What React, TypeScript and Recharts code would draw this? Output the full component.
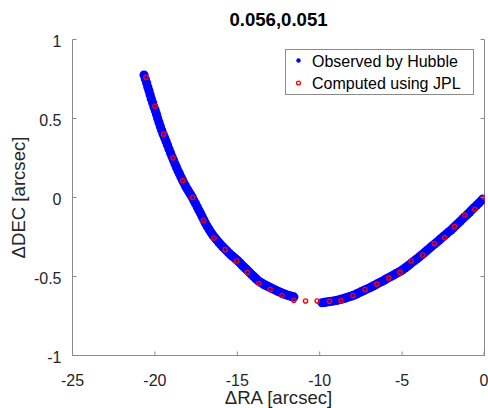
import { Label, Legend, Scatter, ScatterChart, XAxis, YAxis } from "recharts";

// left arc of the Hubble track (top -> bottom)
const observedLeftRA = [
  -20.66, -20.58, -20.5, -20.43, -20.36, -20.29, -20.22, -20.14, -20.06, -19.98,
  -19.9, -19.83, -19.75, -19.67, -19.59, -19.5, -19.41, -19.32, -19.23, -19.14,
  -19.05, -18.96, -18.87, -18.78, -18.69, -18.6, -18.51, -18.42, -18.33, -18.23,
  -18.13, -18.03, -17.93, -17.83, -17.73, -17.63, -17.53, -17.43, -17.33, -17.23,
  -17.13, -17.03, -16.93, -16.82, -16.71, -16.6, -16.49, -16.38, -16.26, -16.14,
  -16.02, -15.9, -15.78, -15.66, -15.54, -15.42, -15.3, -15.18, -15.06, -14.94,
  -14.83, -14.72, -14.61, -14.5, -14.39, -14.27, -14.15, -14.03, -13.91, -13.8,
  -13.69, -13.57, -13.45, -13.33, -13.21, -13.1, -12.99, -12.87, -12.75, -12.63,
  -12.51, -12.4, -12.29, -12.17, -12.05, -11.93, -11.81, -11.69, -11.57,
];
const observedLeftDEC = [
  0.775, 0.75, 0.725, 0.7, 0.675, 0.65, 0.625, 0.6, 0.575, 0.55,
  0.525, 0.5, 0.475, 0.45, 0.425, 0.4, 0.378, 0.355, 0.33, 0.305,
  0.282, 0.258, 0.235, 0.212, 0.19, 0.17, 0.15, 0.13, 0.11, 0.09,
  0.07, 0.052, 0.035, 0.018, 0.0, -0.02, -0.04, -0.06, -0.08, -0.1,
  -0.122, -0.143, -0.163, -0.183, -0.202, -0.22, -0.237, -0.252, -0.267, -0.282,
  -0.296, -0.31, -0.323, -0.336, -0.348, -0.36, -0.371, -0.382, -0.392, -0.403,
  -0.415, -0.427, -0.439, -0.45, -0.461, -0.473, -0.485, -0.497, -0.509, -0.52,
  -0.53, -0.538, -0.546, -0.553, -0.559, -0.565, -0.571, -0.577, -0.583, -0.589,
  -0.595, -0.6, -0.605, -0.61, -0.615, -0.619, -0.623, -0.626, -0.629,
];

// right arc of the Hubble track (bottom -> top)
const observedRightRA = [
  -9.86, -9.72, -9.58, -9.44, -9.3, -9.16, -9.02, -8.88, -8.74, -8.6,
  -8.46, -8.32, -8.18, -8.04, -7.9, -7.76, -7.62, -7.48, -7.34, -7.2,
  -7.06, -6.92, -6.78, -6.64, -6.5, -6.36, -6.22, -6.08, -5.94, -5.8,
  -5.66, -5.52, -5.38, -5.24, -5.1, -4.96, -4.82, -4.68, -4.54, -4.4,
  -4.26, -4.12, -3.98, -3.84, -3.7, -3.56, -3.42, -3.28, -3.14, -3.0,
  -2.86, -2.72, -2.58, -2.44, -2.3, -2.16, -2.02, -1.88, -1.74, -1.6,
  -1.46, -1.32, -1.18, -1.04, -0.9, -0.76, -0.62, -0.48, -0.34, -0.2, -0.1,
];
const observedRightDEC = [
  -0.666, -0.664, -0.662, -0.659, -0.657, -0.655, -0.652, -0.649, -0.645, -0.641,
  -0.637, -0.632, -0.627, -0.623, -0.617, -0.61, -0.603, -0.596, -0.59, -0.583,
  -0.576, -0.569, -0.561, -0.554, -0.546, -0.538, -0.531, -0.523, -0.515, -0.507,
  -0.499, -0.491, -0.482, -0.474, -0.466, -0.457, -0.446, -0.435, -0.424, -0.412,
  -0.401, -0.39, -0.378, -0.366, -0.354, -0.341, -0.329, -0.317, -0.304, -0.292,
  -0.28, -0.267, -0.255, -0.242, -0.23, -0.217, -0.205, -0.191, -0.177, -0.163,
  -0.149, -0.135, -0.121, -0.107, -0.093, -0.078, -0.064, -0.049, -0.035, -0.021, -0.01,
];

const jplRA = [
  -20.54, -20.0, -19.47, -18.9, -18.31, -17.71, -17.05, -16.41, -15.74, -15.05,
  -14.39, -13.69, -13.01, -12.29, -11.57, -10.86, -10.15, -9.4, -8.71, -7.98,
  -7.25, -6.54, -5.81, -5.12, -4.45, -3.75, -3.05, -2.43, -1.82, -1.19, -0.59, 0.0,
];
const jplDEC = [
  0.76, 0.578, 0.401, 0.251, 0.107, 0.0, -0.144, -0.256, -0.33, -0.402,
  -0.474, -0.545, -0.582, -0.62, -0.651, -0.655, -0.655, -0.656, -0.653, -0.62,
  -0.582, -0.548, -0.51, -0.474, -0.402, -0.364, -0.292, -0.254, -0.184, -0.111, -0.074, 0.0,
];

const raTicks = [-25, -20, -15, -10, -5, 0];
const decTicks = [-1, -0.5, 0, 0.5, 1];
const title = "0.056,0.051";
const seriesNames = ["Observed by Hubble", "Computed using JPL"];

const toPoints = (xs: number[], ys: number[]) => xs.map((x, i) => ({ ra: x, dec: ys[i] }));
const observed = [
  ...toPoints(observedLeftRA, observedLeftDEC),
  ...toPoints(observedRightRA, observedRightDEC),
];
const computed = toPoints(jplRA, jplDEC);

const AXIS = "#8a8a8a";
const TEXT = "#262626";
const FONT = '"Liberation Sans", Arial, Helvetica, sans-serif';
const BLUE = "#0000ff";
const RED = "#ff0000";

function BottomTick({ x, y, payload }: any) {
  return (
    <g>
      <line x1={x} y1={y} x2={x} y2={y - 4} stroke={AXIS} />
      <text x={x} y={y + 30} textAnchor="middle" fontSize={16} fill={TEXT} fontFamily={FONT}>
        {payload.value}
      </text>
    </g>
  );
}

function TopTick({ x, y }: any) {
  return <line x1={x} y1={y} x2={x} y2={y + 4} stroke={AXIS} />;
}

function LeftTick({ x, y, payload }: any) {
  return (
    <g>
      <line x1={x} y1={y} x2={x + 4} y2={y} stroke={AXIS} />
      <text x={x - 11} y={y + 7.5} textAnchor="end" fontSize={16} fill={TEXT} fontFamily={FONT}>
        {payload.value}
      </text>
    </g>
  );
}

function RightTick({ x, y }: any) {
  return <line x1={x} y1={y} x2={x - 4} y2={y} stroke={AXIS} />;
}

function LegendBox() {
  return (
    <svg width={189} height={46} style={{ display: "block" }}>
      <rect x={0.5} y={0.5} width={188} height={45} fill="#fff" stroke={AXIS} />
      <circle cx={13.5} cy={11.5} r={2.2} fill={BLUE} />
      <circle cx={13.5} cy={34} r={1.9} fill="none" stroke={RED} strokeWidth={1.3} />
      <text x={27} y={17.7} fontSize={16} fill="#000" fontFamily={FONT}>
        {seriesNames[0]}
      </text>
      <text x={27} y={39.7} fontSize={16} fill="#000" fontFamily={FONT}>
        {seriesNames[1]}
      </text>
    </svg>
  );
}

// x label under the axis, title centred over the plot area
function XLabelAndTitle({ viewBox }: any) {
  const cx = viewBox.x + viewBox.width / 2;
  return (
    <g>
      <text x={cx} y={viewBox.y + 48.5} textAnchor="middle" fontSize={18.6} fill={TEXT} fontFamily={FONT}>
        ΔRA [arcsec]
      </text>
      <text x={cx} y={26} textAnchor="middle" fontSize={18.6} fontWeight="bold" fill="#000" fontFamily={FONT}>
        {title}
      </text>
    </g>
  );
}

export default function App() {
  return (
    <div style={{ position: "absolute", left: 0, top: 0, width: 488, height: 408, background: "#fff" }}>
      <ScatterChart
        width={488}
        height={408}
        margin={{ top: 39.5, right: 0, bottom: 0, left: 0 }}
        style={{ fontFamily: FONT }}
      >
        <XAxis
          xAxisId={0}
          type="number"
          dataKey="ra"
          domain={[-25, 0]}
          ticks={raTicks}
          allowDataOverflow
          height={52.5}
          tickSize={0}
          tickMargin={0}
          stroke={AXIS}
          tick={<BottomTick />}
        >
          <Label content={XLabelAndTitle} />
        </XAxis>
        <XAxis
          xAxisId="top"
          orientation="top"
          type="number"
          dataKey="ra"
          domain={[-25, 0]}
          ticks={raTicks}
          allowDataOverflow
          height={0}
          tickSize={0}
          tickMargin={0}
          stroke={AXIS}
          tick={<TopTick />}
        />
        <YAxis
          yAxisId={0}
          type="number"
          dataKey="dec"
          domain={[-1, 1]}
          ticks={decTicks}
          allowDataOverflow
          width={72.5}
          tickSize={0}
          tickMargin={0}
          stroke={AXIS}
          tick={<LeftTick />}
        >
          <Label
            content={({ viewBox }: any) => {
              const cx = 25;
              const cy = viewBox.y + viewBox.height / 2;
              return (
                <text
                  x={cx}
                  y={cy}
                  transform={`rotate(-90, ${cx}, ${cy})`}
                  textAnchor="middle"
                  fontSize={18.6}
                  fill={TEXT}
                  fontFamily={FONT}
                >
                  ΔDEC [arcsec]
                </text>
              );
            }}
          />
        </YAxis>
        <YAxis
          yAxisId="right"
          orientation="right"
          type="number"
          dataKey="dec"
          domain={[-1, 1]}
          ticks={decTicks}
          allowDataOverflow
          width={3.5}
          tickSize={0}
          tickMargin={0}
          stroke={AXIS}
          tick={<RightTick />}
        />
        <Legend
          layout="vertical"
          align="center"
          verticalAlign="middle"
          wrapperStyle={{ position: "absolute", left: 285, top: 49, width: 189, height: 46 }}
          content={() => <LegendBox />}
        />
        <Scatter
          name={seriesNames[0]}
          data={observed}
          xAxisId={0}
          yAxisId={0}
          isAnimationActive={false}
          shape={(p: any) => <circle cx={p.cx} cy={p.cy} r={4.6} fill={BLUE} />}
        />
        <Scatter
          name={seriesNames[1]}
          data={computed}
          xAxisId={0}
          yAxisId={0}
          isAnimationActive={false}
          shape={(p: any) => (
            <circle cx={p.cx} cy={p.cy} r={2.1} fill="none" stroke={RED} strokeWidth={1.4} />
          )}
        />
      </ScatterChart>
    </div>
  );
}
